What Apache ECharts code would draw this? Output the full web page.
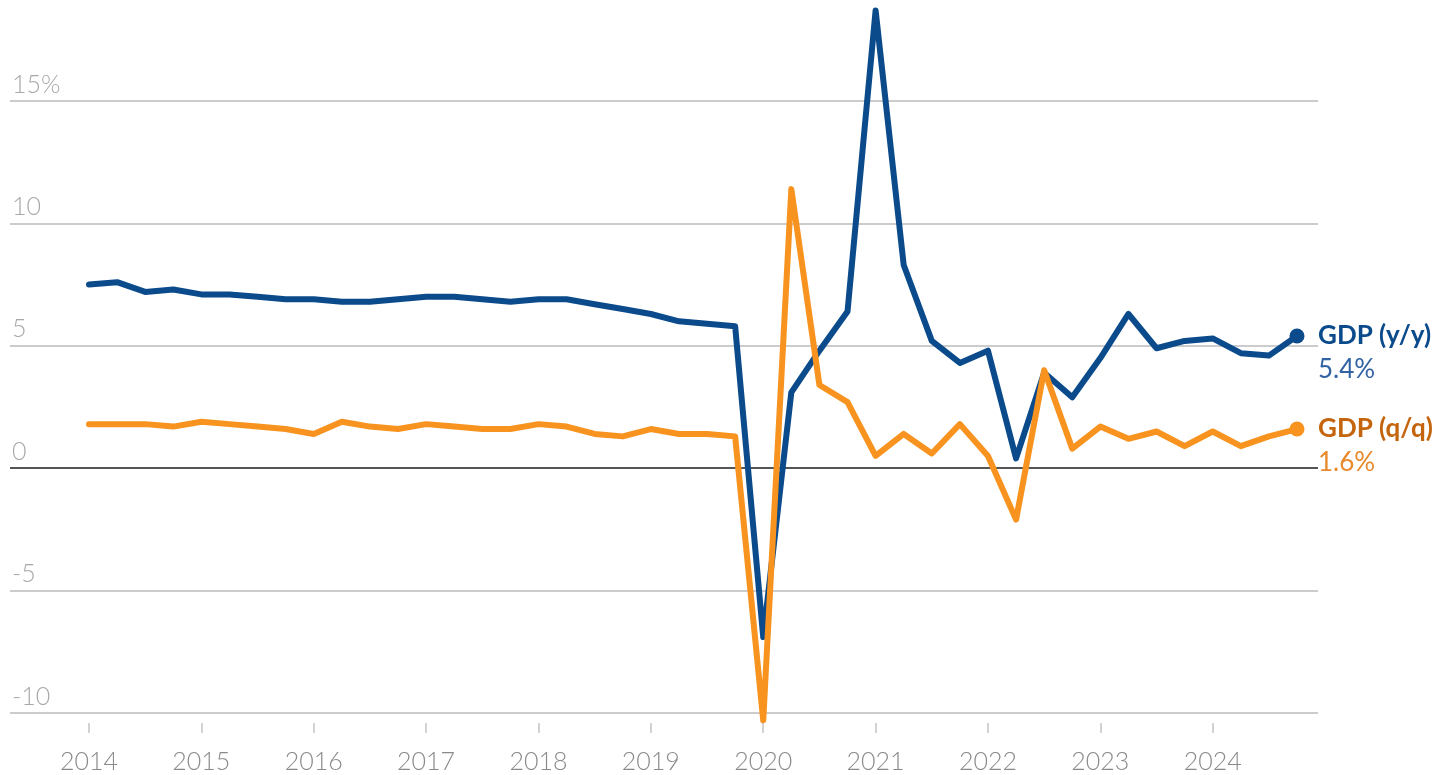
<!DOCTYPE html>
<html><head><meta charset="utf-8">
<script src="https://cdn.jsdelivr.net/npm/echarts@6/dist/echarts.min.js"></script>
<style>html,body{margin:0;padding:0;background:#fff}#c{width:1442px;height:775px}</style>
</head><body><div id="c"></div>
<script>
const years = [2014, 2015, 2016, 2017, 2018, 2019, 2020, 2021, 2022, 2023, 2024];
const quarters = ['Q1', 'Q2', 'Q3', 'Q4'];
const seriesNames = ['GDP (y/y)', 'GDP (q/q)'];
// GDP year-over-year, %
const yoy = [
  7.5, 7.6, 7.2, 7.3,
  7.1, 7.1, 7.0, 6.9,
  6.9, 6.8, 6.8, 6.9,
  7.0, 7.0, 6.9, 6.8,
  6.9, 6.9, 6.7, 6.5,
  6.3, 6.0, 5.9, 5.8,
  -6.9, 3.1, 4.8, 6.4,
  18.7, 8.3, 5.2, 4.3,
  4.8, 0.4, 3.9, 2.9,
  4.5, 6.3, 4.9, 5.2,
  5.3, 4.7, 4.6, 5.4
];
// GDP quarter-over-quarter, %
const qoq = [
  1.8, 1.8, 1.8, 1.7,
  1.9, 1.8, 1.7, 1.6,
  1.4, 1.9, 1.7, 1.6,
  1.8, 1.7, 1.6, 1.6,
  1.8, 1.7, 1.4, 1.3,
  1.6, 1.4, 1.4, 1.3,
  -10.3, 11.4, 3.4, 2.7,
  0.5, 1.4, 0.6, 1.8,
  0.5, -2.1, 4.0, 0.8,
  1.7, 1.2, 1.5, 0.9,
  1.5, 0.9, 1.3, 1.6
];
const yMin = -10, yMax = 15, yStep = 5;

const categories = [];
years.forEach(y => quarters.forEach(q => categories.push(y + ' ' + q)));

const FONT = 'Lato, "Open Sans", sans-serif';
const BLUE = '#0b4a8b', ORANGE = '#f7931e';

function lineSeries(name, data, color, titleColor, valueColor) {
  return {
    name: name, type: 'line', xAxisIndex: 1, yAxisIndex: 1,
    data: data.map((v, i) => i === data.length - 1 ? {value: v, symbol: 'circle', symbolSize: 15} : v),
    symbol: 'none', clip: false, silent: true,
    lineStyle: {width: 6, color: color, join: 'round', cap: 'round'},
    itemStyle: {color: color},
    endLabel: {
      show: true, distance: 21, offset: [0, 17],
      formatter: p => '{a|' + name + '}\n{b|' + Number(p.value).toFixed(1) + '%}',
      rich: {
        a: {fontFamily: FONT, fontWeight: 'bold', fontSize: 26, color: titleColor, lineHeight: 34},
        b: {fontFamily: FONT, fontWeight: 400, fontSize: 26, color: valueColor, lineHeight: 34}
      }
    }
  };
}

const chart = echarts.init(document.getElementById('c'));
chart.setOption({
  animation: false,
  backgroundColor: '#fff',
  grid: [
    {left: 10, right: 124, top: 101, bottom: 62},
    {left: 89, right: 145, top: 101, bottom: 62}
  ],
  xAxis: [
    {gridIndex: 0, type: 'value', min: 0, max: 1, show: false},
    {
      gridIndex: 1, type: 'category', boundaryGap: false, data: categories, offset: 10,
      axisLine: {show: false, onZero: false},
      axisTick: {show: true, length: 10, interval: i => i % 4 === 0, lineStyle: {color: '#c4c4c4', width: 1.5}},
      axisLabel: {interval: i => i % 4 === 0, formatter: v => v.slice(0, 4), margin: 26,
        color: '#8a8a8a', fontSize: 25, fontFamily: FONT, fontWeight: 300},
      splitLine: {show: false}
    }
  ],
  yAxis: [
    {
      gridIndex: 0, type: 'value', min: yMin, max: yMax, interval: yStep,
      axisLine: {show: false}, axisTick: {show: false},
      splitLine: {show: true, lineStyle: {color: ['#cccccc', '#cccccc', '#555555', '#cccccc', '#cccccc', '#cccccc'], width: 2}},
      axisLabel: {inside: true, margin: 2, verticalAlign: 'bottom', padding: [0, 0, 4, 0],
        formatter: v => v === yMax ? v + '%' : String(v),
        color: '#a8a8a8', fontSize: 25, fontFamily: FONT, fontWeight: 300}
    },
    {gridIndex: 1, type: 'value', min: yMin, max: yMax, interval: yStep, show: false, splitLine: {show: false}}
  ],
  series: [
    lineSeries(seriesNames[0], yoy, BLUE, '#0b4a8b', '#3163a5'),
    lineSeries(seriesNames[1], qoq, ORANGE, '#c4650e', '#e8892c')
  ]
});
</script></body></html>
